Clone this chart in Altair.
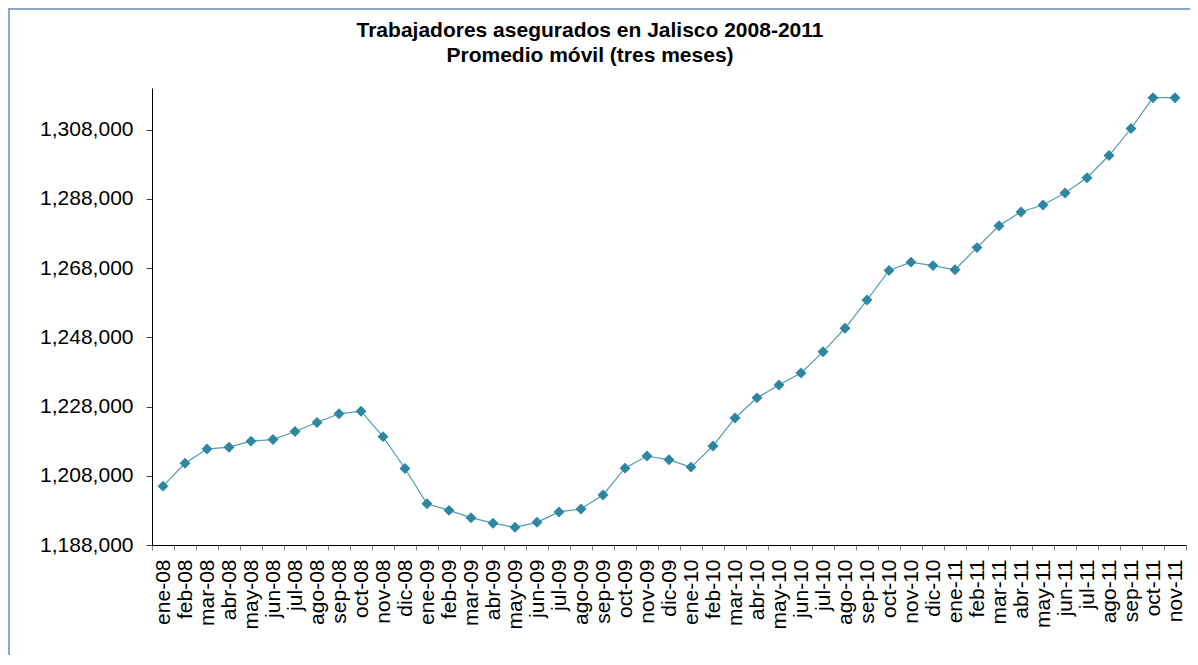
import altair as alt
import pandas as pd

months = ["ene-08", "feb-08", "mar-08", "abr-08", "may-08", "jun-08", "jul-08", "ago-08",
          "sep-08", "oct-08", "nov-08", "dic-08",
          "ene-09", "feb-09", "mar-09", "abr-09", "may-09", "jun-09", "jul-09", "ago-09",
          "sep-09", "oct-09", "nov-09", "dic-09",
          "ene-10", "feb-10", "mar-10", "abr-10", "may-10", "jun-10", "jul-10", "ago-10",
          "sep-10", "oct-10", "nov-10", "dic-10",
          "ene-11", "feb-11", "mar-11", "abr-11", "may-11", "jun-11", "jul-11", "ago-11",
          "sep-11", "oct-11", "nov-11"]

values = [1205000, 1211600, 1215700, 1216250, 1218000, 1218450, 1220800, 1223400,
          1225900, 1226650, 1219300, 1210100,
          1199900, 1198000, 1195900, 1194300, 1193100, 1194550, 1197550, 1198400,
          1202450, 1210200, 1213700, 1212600,
          1210500, 1216600, 1224700, 1230500, 1234200, 1237700, 1243800, 1250600,
          1258750, 1267300, 1269700, 1268700,
          1267500, 1273900, 1280200, 1284200, 1286200, 1289700, 1294100, 1300500,
          1308300, 1317200, 1317200]

y_ticks = [1188000, 1208000, 1228000, 1248000, 1268000, 1288000, 1308000]

title_lines = ["Trabajadores asegurados en Jalisco 2008-2011", "Promedio móvil (tres meses)"]

df = pd.DataFrame({"mes": months, "valor": values})

FONT = "Liberation Sans"

x_enc = alt.X(
    "mes:N", sort=None, bandPosition=0.5,
    scale=alt.Scale(type="band", paddingInner=0, paddingOuter=0),
    axis=alt.Axis(title=None, labelAngle=-90, labelAlign="right", labelBaseline="middle",
                  labelFontSize=21, labelFont=FONT, labelColor="black",
                  tickBand="extent", tickSize=5, labelPadding=9,
                  tickColor="#808080", domainColor="black", domainWidth=1,
                  grid=False, labelOverlap=False),
)
y_enc = alt.Y(
    "valor:Q",
    scale=alt.Scale(domain=[1188000, 1320000], zero=False, nice=False),
    axis=alt.Axis(title=None, values=y_ticks, format=",d", labelFontSize=21,
                  labelFont=FONT, labelColor="black", tickSize=6, labelPadding=13,
                  tickColor="#404040", domainColor="black", domainWidth=1, grid=False),
)

base = alt.Chart(df)

line = base.mark_line(color="#4E9DB6", strokeWidth=1.2).encode(x=x_enc, y=y_enc)
pts = base.mark_point(shape="diamond", filled=True, size=120, color="#2E86A0",
                      opacity=1).encode(x=x_enc, y=y_enc)

frame = alt.Chart(pd.DataFrame({"a": [0]})).mark_rect(
    fill=None, stroke="#8EA6C9", strokeWidth=2, clip=False
).encode(x=alt.value(-143), x2=alt.value(1200), y=alt.value(-79), y2=alt.value(700))

title1 = alt.Chart(pd.DataFrame({"t": [title_lines[0]]})).mark_text(
    font=FONT, fontSize=21, fontWeight="bold", color="black", align="center",
    baseline="alphabetic", clip=False
).encode(text="t:N", x=alt.value(438), y=alt.value(-51))

title2 = alt.Chart(pd.DataFrame({"t": [title_lines[1]]})).mark_text(
    font=FONT, fontSize=21, fontWeight="bold", color="black", align="center",
    baseline="alphabetic", clip=False
).encode(text="t:N", x=alt.value(438), y=alt.value(-26))

chart = alt.layer(frame, title1, title2, line, pts).properties(
    width=1034,
    height=457,
    autosize=alt.AutoSizeParams(type="none"),
    padding={"left": 144, "top": 80, "right": 4, "bottom": 110},
).configure_view(stroke=None)

chart.save("out.html", embed_options={"renderer": "svg", "actions": False})
